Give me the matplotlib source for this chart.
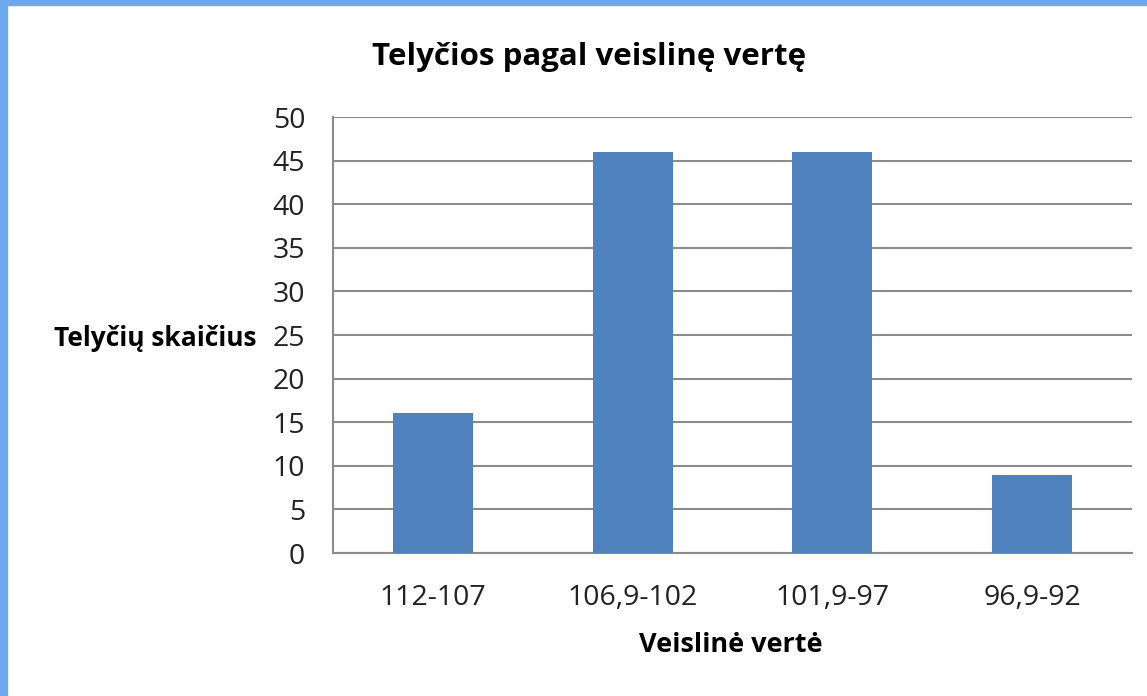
import matplotlib.pyplot as plt
from matplotlib.patches import Rectangle

categories = ["112-107", "106,9-102", "101,9-97", "96,9-92"]
counts = [16, 46, 46, 9]
yticks = [0, 5, 10, 15, 20, 25, 30, 35, 40, 45, 50]

title = "Telyčios pagal veislinę vertę"
xlabel = "Veislinė vertė"
ylabel = "Telyčių skaičius"

plt.rcParams["font.family"] = ["Open Sans", "DejaVu Sans"]

W, H = 1147, 696
fig = plt.figure(figsize=(W / 100, H / 100), dpi=100)
ax = fig.add_axes([333 / W, 1 - 553 / H, 799 / W, 436 / H])

x = range(len(categories))
ax.bar(x, counts, width=0.4, color="#4f81bd", zorder=3)

ax.set_xlim(-0.5, len(categories) - 0.5)
ax.set_ylim(0, 50)
ax.set_yticks(yticks)
ax.set_xticks(list(x))
ax.set_xticklabels(categories)
ax.grid(axis="y", color="#8c8c8c", linewidth=1.5, zorder=0)
ax.tick_params(axis="both", length=0, labelsize=20.5, colors="#222222")
ax.tick_params(axis="x", pad=22)
ax.tick_params(axis="y", pad=20)
for s in ["top", "right"]:
    ax.spines[s].set_visible(False)
ax.spines["left"].set_color("#8c8c8c")
ax.spines["left"].set_linewidth(1.5)
ax.spines["bottom"].set_color("#8c8c8c")
ax.spines["bottom"].set_linewidth(1.5)

fig.text(589 / W, 1 - 57 / H, title, ha="center", va="center",
         fontsize=22.5, fontweight="bold")
fig.text(731 / W, 1 - 645 / H, xlabel, ha="center", va="center",
         fontsize=19.5, fontweight="bold")
fig.text(155 / W, 1 - 338 / H, ylabel, ha="center", va="center",
         fontsize=19, fontweight="bold")

# window frame on left and top edges
fig.patches.append(Rectangle((0, 0), 7 / W, 1, transform=fig.transFigure,
                             color="#6fa8ee", zorder=0))
fig.patches.append(Rectangle((0, 1 - 5 / H), 1, 5 / H, transform=fig.transFigure,
                             color="#6fa8ee", zorder=0))

fig.savefig("out.png", dpi=100)
